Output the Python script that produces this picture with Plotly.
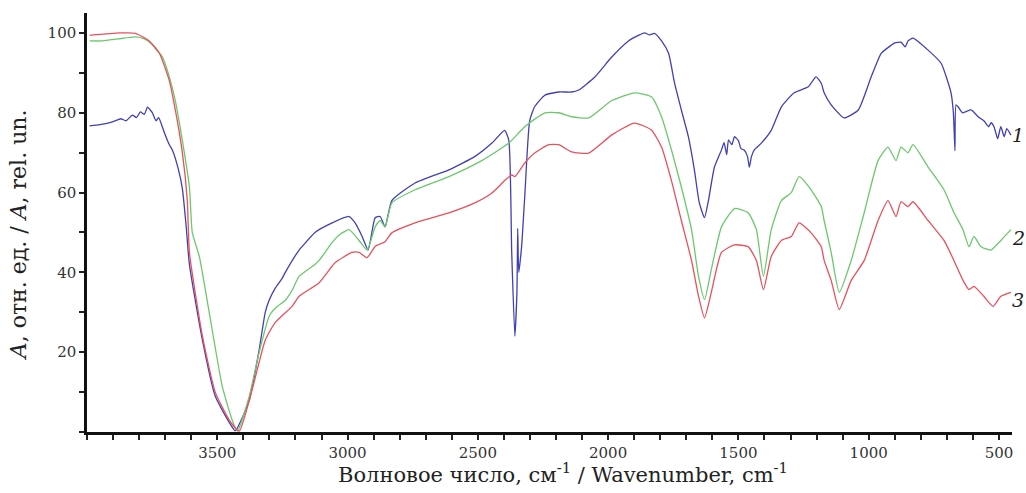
import plotly.graph_objects as go

# Curve 1 (blue)
wn1 = [3990, 3950, 3902, 3870, 3850, 3826, 3810, 3795, 3780, 3768, 3755, 3749, 3735, 3725, 3711, 3700,
       3684, 3672, 3650, 3634, 3620, 3607, 3557, 3508, 3454, 3431, 3377, 3339, 3316, 3301, 3278, 3251,
       3239, 3186, 3174, 3125, 3059, 2994, 2971, 2944, 2921, 2894, 2875, 2856, 2830, 2741, 2611, 2512,
       2446, 2397, 2381, 2370, 2358, 2350, 2347, 2343, 2332, 2320, 2301, 2282, 2243, 2190, 2140, 2113,
       2052, 1987, 1922, 1880, 1860, 1840, 1822, 1795, 1768, 1745, 1719, 1692, 1669, 1650, 1630, 1615,
       1592, 1565, 1555, 1545, 1538, 1525, 1515, 1500, 1490, 1477, 1465, 1458, 1450, 1439, 1412, 1374,
       1335, 1286, 1232, 1202, 1182, 1171, 1144, 1094, 1040, 991, 952, 914, 900, 876, 860, 849, 830,
       772, 722, 684, 675, 669, 665, 657, 640, 607, 580, 558, 540, 530, 519, 505, 493, 480, 470, 454]
a1 = [76.7, 77.0, 77.7, 78.5, 78.0, 79.4, 78.8, 80.2, 79.6, 81.4, 80.5, 80.0, 78.0, 78.8, 76.5, 74.5,
      72.0, 70.6, 66.0, 61.0, 52.0, 42.0, 23.0, 9.0, 2.4, 0.3, 8.0, 20.7, 30.0, 33.0, 36.0, 38.5,
      40.0, 45.6, 46.5, 50.0, 52.4, 54.0, 52.4, 49.0, 45.6, 53.7, 54.0, 51.4, 58.0, 62.4, 65.7, 69.0,
      72.4, 75.6, 73.0, 45.0, 24.0, 35.0, 51.0, 40.0, 46.5, 59.0, 78.0, 81.5, 84.4, 85.2, 85.2, 85.7,
      88.9, 93.9, 98.0, 99.5, 100.0, 99.5, 99.9, 98.0, 94.9, 87.4, 80.7, 74.0, 65.7, 57.4, 53.7, 58.0,
      66.4, 70.7, 72.5, 69.5, 73.2, 72.0, 74.0, 73.0, 71.0, 70.6, 69.0, 66.4, 69.0, 70.7, 72.4, 75.6,
      81.5, 85.0, 86.5, 89.0, 87.4, 85.0, 82.0, 78.7, 80.7, 88.9, 94.9, 96.9, 97.5, 97.7, 96.5, 98.0, 98.7,
      95.7, 92.4, 85.0, 80.0, 70.5, 82.0, 81.5, 80.0, 80.7, 79.0, 78.0, 76.5, 77.5, 76.5, 73.5, 76.5, 74.0, 76.0, 74.4]

# Curve 2 (green)
wn2 = [3990, 3941, 3880, 3814, 3780, 3761, 3711, 3684, 3661, 3634, 3607, 3596, 3569, 3531, 3481, 3443,
       3423, 3377, 3339, 3301, 3278, 3239, 3213, 3186, 3125, 3109, 3059, 3030, 2994, 2956, 2925, 2894,
       2875, 2856, 2830, 2741, 2611, 2485, 2381, 2320, 2243, 2190, 2140, 2075, 1987, 1899, 1834, 1795,
       1757, 1719, 1680, 1653, 1630, 1604, 1565, 1515, 1462, 1431, 1404, 1374, 1335, 1297, 1267, 1221,
       1182, 1171, 1144, 1113, 1067, 1017, 964, 926, 895, 876, 849, 830, 772, 711, 673, 638, 615, 596,
       569, 531, 493, 454]
a2 = [98.0, 98.0, 98.5, 99.0, 98.5, 97.7, 94.0, 89.0, 83.0, 73.0, 61.4, 50.0, 44.0, 30.0, 11.5, 3.0,
      0.2, 9.0, 20.0, 29.0, 31.0, 33.0, 35.5, 39.0, 42.0, 43.0, 47.5, 49.5, 50.7, 48.0, 45.6, 51.4,
      53.0, 51.4, 57.4, 60.7, 64.0, 68.0, 72.4, 76.5, 80.0, 80.0, 79.0, 78.7, 83.0, 85.0, 84.0, 79.0,
      70.7, 61.4, 50.7, 39.0, 33.2, 40.7, 51.4, 56.0, 54.9, 50.7, 39.0, 50.7, 58.0, 60.0, 64.0, 60.7,
      56.5, 53.0, 45.0, 35.0, 43.0, 55.0, 68.0, 71.4, 68.0, 71.4, 70.0, 72.0, 66.4, 60.7, 55.0, 50.7, 46.4, 49.0,
      46.4, 45.6, 48.0, 50.7]

# Curve 3 (red)
wn3 = [3990, 3875, 3814, 3761, 3722, 3684, 3661, 3634, 3615, 3607, 3557, 3508, 3454, 3416, 3366, 3316,
       3278, 3213, 3186, 3109, 3048, 2983, 2956, 2925, 2894, 2856, 2830, 2741, 2611, 2512, 2446, 2397,
       2370, 2358, 2320, 2282, 2228, 2190, 2140, 2075, 1987, 1899, 1834, 1795, 1757, 1719, 1680, 1653,
       1630, 1604, 1565, 1515, 1462, 1431, 1404, 1374, 1335, 1297, 1267, 1221, 1182, 1171, 1144, 1113,
       1067, 1017, 964, 926, 895, 876, 849, 830, 772, 711, 673, 638, 615, 596, 558, 523, 493, 454]
a3 = [99.4, 100.0, 99.9, 98.0, 94.9, 88.0, 80.7, 70.0, 58.0, 45.0, 24.0, 10.0, 3.0, 0.2, 10.7, 23.0,
      27.4, 31.5, 34.0, 37.4, 42.4, 45.0, 45.0, 43.7, 46.5, 47.7, 49.9, 52.4, 54.9, 57.4, 59.9, 63.0,
      64.4, 64.0, 67.4, 69.9, 72.0, 72.0, 70.2, 69.9, 74.4, 77.4, 75.7, 71.4, 63.0, 53.0, 43.0, 34.0,
      28.6, 35.0, 45.0, 46.9, 46.4, 43.0, 35.7, 44.0, 48.0, 49.0, 52.4, 49.9, 46.4, 43.0, 38.0, 30.7,
      38.0, 43.0, 53.0, 58.0, 54.0, 57.7, 56.5, 57.7, 53.0, 48.0, 43.0, 38.0, 35.7, 36.5, 34.0, 31.5, 34.0, 35.0]

curve_labels = ["1", "2", "3"]
label_values = [74.4, 48.7, 33.2]
colors = ["#4040b4", "#6cc86c", "#e8505c"]

x_ticks = [3500, 3000, 2500, 2000, 1500, 1000, 500]
y_ticks = [20, 40, 60, 80, 100]

x_title = "Волновое число, см<sup>-1</sup> / Wavenumber, cm<sup>-1</sup>"
y_title = "<i>A</i>, отн. ед. / <i>A</i>, rel. un."

FONT = "DejaVu Serif"

fig = go.Figure()
for wn, a, c in zip([wn1, wn2, wn3], [a1, a2, a3], colors):
    fig.add_trace(go.Scatter(x=wn, y=a, mode="lines",
                             line=dict(color=c, width=1.3, shape="spline", smoothing=0.5),
                             showlegend=False, hoverinfo="skip"))

for lab, v in zip(curve_labels, label_values):
    fig.add_annotation(x=0.998, xref="paper", y=v, yref="y", text="<i>" + lab + "</i>",
                       showarrow=False, xanchor="left", yanchor="middle",
                       font=dict(family=FONT, size=19, color="#222"))

fig.add_annotation(x=0.515, xref="paper", y=-0.098, yref="paper", text=x_title,
                   showarrow=False, xanchor="center", yanchor="middle",
                   font=dict(family=FONT, size=21, color="#222"))
fig.add_annotation(x=-0.074, xref="paper", y=0.471, yref="paper", text=y_title, textangle=-90,
                   showarrow=False, xanchor="center", yanchor="middle",
                   font=dict(family=FONT, size=22, color="#222"))

fig.update_layout(
    width=1026, height=493,
    margin=dict(l=87, r=14, t=13, b=61, autoexpand=False),
    paper_bgcolor="white", plot_bgcolor="white",
    font=dict(family=FONT, size=15, color="#333"),
    xaxis=dict(range=[4000, 450], tickvals=x_ticks, ticks="outside", ticklen=5, tickwidth=1.5,
               tickcolor="#222", showline=True, linecolor="#111", linewidth=2.5, showgrid=False,
               zeroline=False, tickfont=dict(family=FONT, size=15, color="#333"), automargin=False,
               minor=dict(dtick=100, ticks="outside", ticklen=5, tickwidth=1.5, tickcolor="#222")),
    yaxis=dict(range=[0, 105], tickvals=y_ticks, ticks="outside", ticklen=5, tickwidth=1.5,
               tickcolor="#222", showline=True, linecolor="#111", linewidth=2.5, showgrid=False,
               zeroline=False, tickfont=dict(family=FONT, size=15, color="#333"), automargin=False,
               minor=dict(dtick=10, ticks="outside", ticklen=5, tickwidth=1.5, tickcolor="#222")),
)

fig.write_html("out.html", config={"displayModeBar": False},
               post_script="document.body.style.margin='0';document.body.style.overflow='hidden';")
